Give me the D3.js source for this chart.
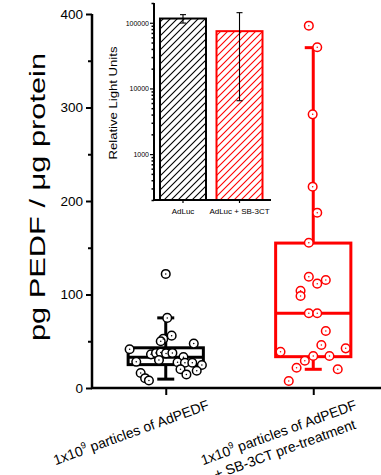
<!DOCTYPE html>
<html>
<head>
<meta charset="utf-8">
<script src="https://cdn.jsdelivr.net/npm/d3@7"></script>
<style>
  body { margin: 0; background: #fff; }
  text { font-family: Arial, "Liberation Sans", sans-serif; }
</style>
</head>
<body>
<div id="plot"></div>
<script>
// categories and data
var groups = ["AdPEDF", "AdPEDF + SB-3CT"];
var groupColors = ["#000000", "#ff0000"];

// box summaries: [min whisker, q1, median, q3, max whisker]
var boxStats = [
  [9.5, 25, 33, 43, 75],
  [20, 33.5, 80, 155, 364]
];

// individual points (pg/ug) and horizontal jitter (fraction of category step)
var pedfValues = [75, 56, 52.5, 50, 47.5, 41.5, 36, 37.5, 38, 37, 37.5, 33, 30, 28, 27.5, 27, 27, 24.6, 20, 18.5, 14.5, 16, 10.5, 8, 122];
var pedfJitter = [0.01, 0.04, -0.017, -0.034, 0.19, -0.245, -0.1, -0.066, -0.034, 0.002, 0.045, 0.12, -0.046, -0.2, 0.08, 0.13, 0.18, 0.245, 0.1, 0.21, 0.14, -0.17, -0.14, -0.114, 0];
var sbValues = [387.5, 364.4, 292.7, 215.3, 187.5, 155.4, 119, 111.6, 115.5, 104, 98.4, 79.9, 79.9, 61, 46, 38.8, 42.4, 34.2, 34.2, 29.2, 21.7, 20, 7.5];
var sbJitter = [-0.03, 0.027, -0.004, -0.004, 0.027, -0.03, -0.03, 0.027, 0.085, -0.086, -0.086, -0.03, 0.027, 0.085, 0.055, -0.222, 0.22, 0, 0.11, -0.057, -0.113, 0.166, -0.166];

var yTicks = [0, 100, 200, 300, 400];
var yMinor = [50, 150, 250, 350];

// inset: luciferase
var insetCats = ["AdLuc", "AdLuc + SB-3CT"];
var insetMeans = [116000, 74500];
var insetErr = [17000, 68000];
var insetTicks = [1000, 10000, 100000];

var W = 381, H = 475;
var svg = d3.select("#plot").append("svg")
    .attr("width", W)
    .attr("height", H);

svg.append("rect").attr("width", W).attr("height", H).attr("fill", "#fff");

// scales
var y = d3.scaleLinear().domain([0, 400]).range([388, 14]);
var x = d3.scalePoint().domain(groups).range([92, 387]).padding(0.5);
var step = x.step();
var boxW = step * 0.51;

// y axis
var yAxis = svg.append("g")
    .attr("transform", "translate(92,0)")
    .call(d3.axisLeft(y).tickValues(yTicks).tickSize(6).tickPadding(3));
yAxis.select(".domain").attr("stroke-width", 2.5).attr("d", "M0," + y(400) + "V" + y(0));
yAxis.selectAll(".tick line").attr("stroke-width", 2);
yAxis.selectAll(".tick text").attr("font-size", 13.5).attr("fill", "#000").style("font-family", "Arial, 'Liberation Sans'");

var yAxisMinor = svg.append("g")
    .attr("transform", "translate(92,0)")
    .call(d3.axisLeft(y).tickValues(yMinor).tickSize(4).tickFormat(""));
yAxisMinor.select(".domain").remove();
yAxisMinor.selectAll(".tick line").attr("stroke-width", 2);

// x axis
var xAxis = svg.append("g")
    .attr("transform", "translate(0," + y(0) + ")")
    .call(d3.axisBottom(x).tickSize(7).tickFormat(""));
xAxis.select(".domain").attr("stroke-width", 2.5).attr("d", "M91,0H381");
xAxis.selectAll(".tick line").attr("stroke-width", 2);

// x labels
var labelLines = [
  [["1x10", "9", " particles of AdPEDF"]],
  [["1x10", "9", " particles of AdPEDF"], ["+ SB-3CT pre-treatment"]]
];
groups.forEach(function(g, i) {
  var t = svg.append("text")
      .attr("transform", "translate(" + (x(g) - 33) + ",437) rotate(-20)")
      .attr("text-anchor", "middle")
      .attr("font-size", 14)
      .attr("fill", "#000");
  labelLines[i].forEach(function(line, j) {
    if (line.length == 3) {
      t.append("tspan").attr("x", 0).attr("y", j * 18).text(line[0]);
      t.append("tspan").attr("dy", -6).attr("font-size", 9).text(line[1]);
      t.append("tspan").attr("dy", 6).text(line[2]);
    } else {
      t.append("tspan").attr("x", 0).attr("y", j * 18).text(line[0]);
    }
  });
});

// y title
svg.append("text")
    .attr("transform", "translate(45,197) rotate(-90)")
    .attr("text-anchor", "middle")
    .attr("font-size", 22)
    .attr("textLength", 288)
    .attr("lengthAdjust", "spacingAndGlyphs")
    .attr("fill", "#000")
    .text("pg PEDF / \u03bcg protein");

// box plots
var capW = 8.5;
groups.forEach(function(g, i) {
  var s = boxStats[i], cx = x(g), col = groupColors[i];
  var gb = svg.append("g").attr("stroke", col).attr("stroke-width", 3).attr("fill", "none");
  gb.append("line").attr("x1", cx).attr("x2", cx).attr("y1", y(s[0])).attr("y2", y(s[1]));
  gb.append("line").attr("x1", cx).attr("x2", cx).attr("y1", y(s[3])).attr("y2", y(s[4]));
  gb.append("line").attr("x1", cx - capW).attr("x2", cx + capW).attr("y1", y(s[0])).attr("y2", y(s[0]));
  gb.append("line").attr("x1", cx - capW).attr("x2", cx + capW).attr("y1", y(s[4])).attr("y2", y(s[4]));
  gb.append("rect")
      .attr("x", cx - boxW / 2).attr("width", boxW)
      .attr("y", y(s[3])).attr("height", y(s[1]) - y(s[3]));
  gb.append("line").attr("x1", cx - boxW / 2).attr("x2", cx + boxW / 2).attr("y1", y(s[2])).attr("y2", y(s[2]));
});

// points
function drawPoints(vals, jit, g, col) {
  var pts = vals.map(function(v, i) { return {v: v, j: jit[i]}; });
  var gp = svg.append("g");
  gp.selectAll(".dot")
      .data(pts)
      .enter().append("circle")
      .attr("cx", function(d) { return x(g) + d.j * step; })
      .attr("cy", function(d) { return y(d.v); })
      .attr("r", 4.3)
      .attr("fill", "#fff")
      .attr("stroke", col)
      .attr("stroke-width", 1.5);
  gp.selectAll(".cdot")
      .data(pts)
      .enter().append("circle")
      .attr("cx", function(d) { return x(g) + d.j * step; })
      .attr("cy", function(d) { return y(d.v); })
      .attr("r", 0.75)
      .attr("fill", col);
}
drawPoints(pedfValues, pedfJitter, groups[0], groupColors[0]);
drawPoints(sbValues, sbJitter, groups[1], groupColors[1]);

// ---- inset ----
var defs = svg.append("defs");
groupColors.forEach(function(c, i) {
  var p = defs.append("pattern")
      .attr("id", "hatch" + i)
      .attr("patternUnits", "userSpaceOnUse")
      .attr("width", 7).attr("height", 7);
  p.append("rect").attr("width", 7).attr("height", 7).attr("fill", "#fff");
  p.append("path")
      .attr("d", "M-1,1L1,-1M0,7L7,0M6,8L8,6")
      .attr("stroke", c)
      .attr("stroke-width", 1.1);
});

var yl = d3.scaleLog().domain([200, 200000]).range([200, 3]);
var xi = d3.scaleBand().domain(insetCats).range([154, 268.5]).paddingInner(0.186).paddingOuter(0.106);

var bars = svg.append("g");
bars.selectAll("rect")
    .data(insetMeans)
    .enter().append("rect")
    .attr("x", function(d, i) { return xi(insetCats[i]); })
    .attr("width", xi.bandwidth())
    .attr("y", function(d) { return yl(d); })
    .attr("height", function(d) { return yl(200) - yl(d); })
    .attr("fill", function(d, i) { return "url(#hatch" + i + ")"; })
    .attr("stroke", function(d, i) { return groupColors[i]; })
    .attr("stroke-width", 2);

// error bars
insetMeans.forEach(function(m, i) {
  var cx = xi(insetCats[i]) + xi.bandwidth() / 2;
  var e = svg.append("g").attr("stroke", "#000").attr("stroke-width", 1.1);
  e.append("line").attr("x1", cx).attr("x2", cx).attr("y1", yl(m + insetErr[i])).attr("y2", yl(m - insetErr[i]));
  e.append("line").attr("x1", cx - 3).attr("x2", cx + 3).attr("y1", yl(m + insetErr[i])).attr("y2", yl(m + insetErr[i]));
  e.append("line").attr("x1", cx - 3).attr("x2", cx + 3).attr("y1", yl(m - insetErr[i])).attr("y2", yl(m - insetErr[i]));
});

var iy = svg.append("g")
    .attr("transform", "translate(154,0)")
    .call(d3.axisLeft(yl).tickValues(insetTicks).tickSize(4).tickPadding(1).tickFormat(d3.format("d")));
iy.select(".domain").attr("stroke-width", 2).attr("d", "M0,3V200");
iy.selectAll(".tick line").attr("stroke-width", 1.2);
iy.selectAll(".tick text").attr("font-size", 7).attr("fill", "#000").style("font-family", "Arial, 'Liberation Sans'");

var minorLog = yl.ticks().filter(function(v) { return insetTicks.indexOf(v) < 0; });
var iyMinor = svg.append("g")
    .attr("transform", "translate(154,0)")
    .call(d3.axisLeft(yl).tickValues(minorLog).tickSize(2.5).tickFormat(""));
iyMinor.select(".domain").remove();
iyMinor.selectAll(".tick line").attr("stroke-width", 1.5);

var ix = svg.append("g")
    .attr("transform", "translate(0,200)")
    .call(d3.axisBottom(xi).tickSize(3).tickPadding(5));
ix.select(".domain").attr("stroke-width", 2).attr("d", "M153,0H271");
ix.selectAll(".tick line").attr("stroke-width", 1.2);
ix.selectAll(".tick text").attr("font-size", 8).attr("fill", "#000").style("font-family", "Arial, 'Liberation Sans'");

svg.append("text")
    .attr("transform", "translate(117,103) rotate(-90)")
    .attr("text-anchor", "middle")
    .attr("font-size", 11)
    .attr("textLength", 113)
    .attr("lengthAdjust", "spacingAndGlyphs")
    .attr("fill", "#000")
    .text("Relative Light Units");
</script>
</body>
</html>
